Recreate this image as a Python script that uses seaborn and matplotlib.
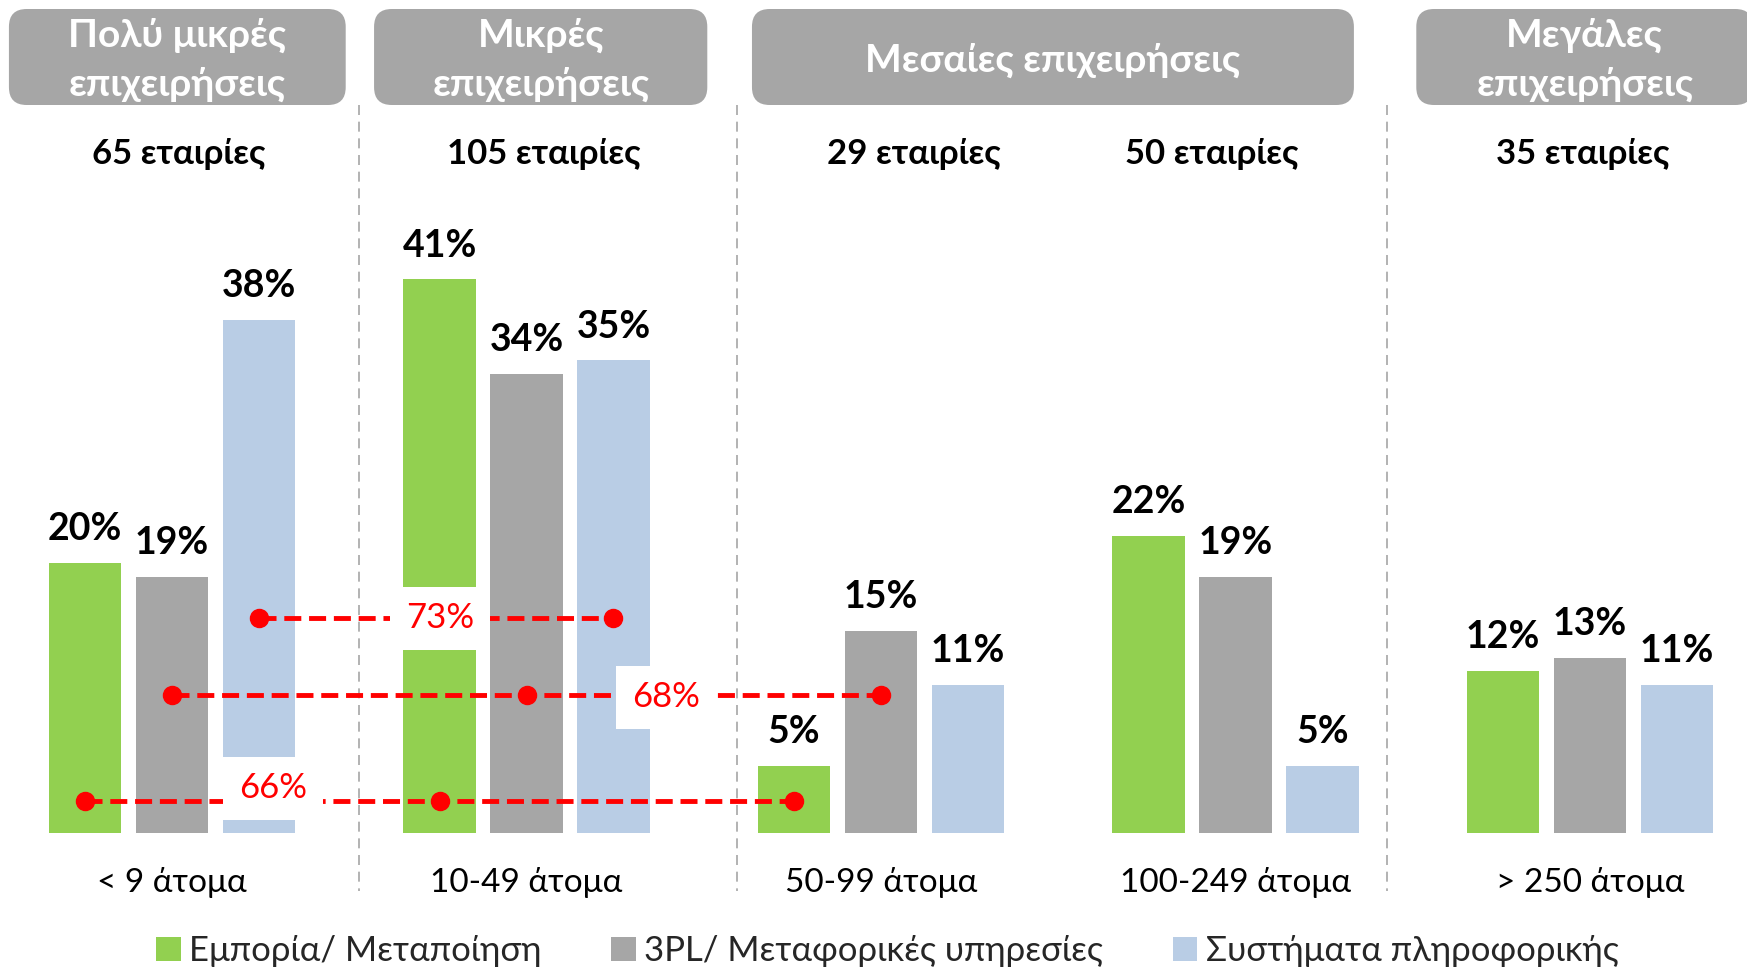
import matplotlib
matplotlib.use('Agg')
import pandas as pd
import seaborn as sns
import matplotlib.pyplot as plt
from matplotlib.patches import FancyBboxPatch

# data
sizes = ['< 9 άτομα', '10-49 άτομα', '50-99 άτομα', '100-249 άτομα', '> 250 άτομα']
sectors = ['Εμπορία/ Μεταποίηση', '3PL/ Μεταφορικές υπηρεσίες', 'Συστήματα πληροφορικής']
trade = [20, 41, 5, 22, 12]
logistics = [19, 34, 15, 19, 13]
it_systems = [38, 35, 11, 5, 11]
companies = ['65 εταιρίες', '105 εταιρίες', '29 εταιρίες', '50 εταιρίες', '35 εταιρίες']
headers = ['Πολύ μικρές\nεπιχειρήσεις', 'Μικρές\nεπιχειρήσεις',
           'Μεσαίες επιχειρήσεις', 'Μεγάλες\nεπιχειρήσεις']

# red connectors: label, level on the axis, which sector, which size groups
link_labels = ['73%', '68%', '66%']
link_levels = [15.9, 10.2, 2.4]
link_sector = [2, 1, 0]
link_groups = [[0, 1], [0, 1, 2], [0, 1, 2]]

colors = ['#92D050', '#A6A6A6', '#B9CDE5']

# layout (pixels of the 1747x969 canvas)
W, H = 1747, 969
X0, GROUP_PX = 172, 354.5
BASE_PX, PCT_PX = 833, 13.5
BAR_STEP = 0.736 / 3

header_spans = [(-0.46, 0.49), (0.57, 1.51), (1.636, 3.334), (3.51, 4.46)]
company_x = [0.02, 1.049, 2.093, 2.934, 3.98]
separators = [0.527, 1.594, 3.428]
link_label_x = [0.756, 1.393, 0.285]
link_label_dy = [0, -0.15, 0.9]

df = pd.DataFrame({
    'size': sizes * 3,
    'sector': [s for s in sectors for _ in sizes],
    'value': trade + logistics + it_systems,
})

sns.set_theme(style='white')
plt.rcParams['font.family'] = ['Lato', 'Noto Sans', 'DejaVu Sans']

fig = plt.figure(figsize=(W / 100, H / 100), dpi=100)
ax = fig.add_axes([0, 0, 1, 1])

sns.barplot(data=df, x='size', y='value', hue='sector', palette=colors,
            width=0.736, gap=0.167, linewidth=0, saturation=1, ax=ax)

ax.set_xlim(-X0 / GROUP_PX, (W - X0) / GROUP_PX)
ax.set_ylim(-(H - BASE_PX) / PCT_PX, BASE_PX / PCT_PX)
ax.axis('off')

def py(px):
    return (BASE_PX - px) / PCT_PX

for cont in ax.containers:
    ax.bar_label(cont, labels=[f'{int(b.get_height())}%' for b in cont],
                 padding=12, fontsize=27, fontweight='bold', color='black')

# group separators
for x in separators:
    ax.plot([x, x], [py(105), py(891)], color='#A6A6A6', lw=1.2,
            dashes=(6, 4), zorder=0)

# header boxes
aspect = GROUP_PX / PCT_PX
for text, (a, b) in zip(headers, header_spans):
    box = FancyBboxPatch((a, py(105)), b - a, py(9) - py(105),
                         boxstyle='round,pad=0,rounding_size=0.05',
                         mutation_aspect=aspect, facecolor='#A6A6A6',
                         edgecolor='none', clip_on=False)
    ax.add_patch(box)
    ax.text((a + b) / 2, py(60), text, ha='center', va='center',
            color='white', fontsize=28, fontweight='bold', linespacing=1.45)

for x, c in zip(company_x, companies):
    ax.text(x, py(154), c, ha='center', va='center', fontsize=25,
            fontweight='bold', color='black')

for i, s in enumerate(sizes):
    ax.text(i, py(883), s, ha='center', va='center', fontsize=24, color='black')

# red dashed connectors
for lab, lev, s, groups, lx, dy in zip(link_labels, link_levels, link_sector,
                                       link_groups, link_label_x, link_label_dy):
    xs = [g + (s - 1) * BAR_STEP for g in groups]
    ax.plot([xs[0], xs[-1]], [lev, lev], color='red', lw=3.5,
            dashes=(3.5, 1.6), zorder=4)
    ax.plot(xs, [lev] * len(xs), 'o', color='red', ms=13, zorder=5)
    ax.text(lx, lev + dy, lab, ha='center', va='center', color='red', fontsize=25,
            zorder=6, bbox=dict(boxstyle='square,pad=0.45', fc='white', ec='none'))

handles, labels = ax.get_legend_handles_labels()
ax.legend(handles, labels, loc='center', bbox_to_anchor=(0.508, 1 - 951 / H),
          ncol=3, frameon=False, fontsize=25, handlelength=0.7, handleheight=0.7,
          handletextpad=0.25, columnspacing=2.0, borderaxespad=0)

fig.savefig('out.png', dpi=100)
